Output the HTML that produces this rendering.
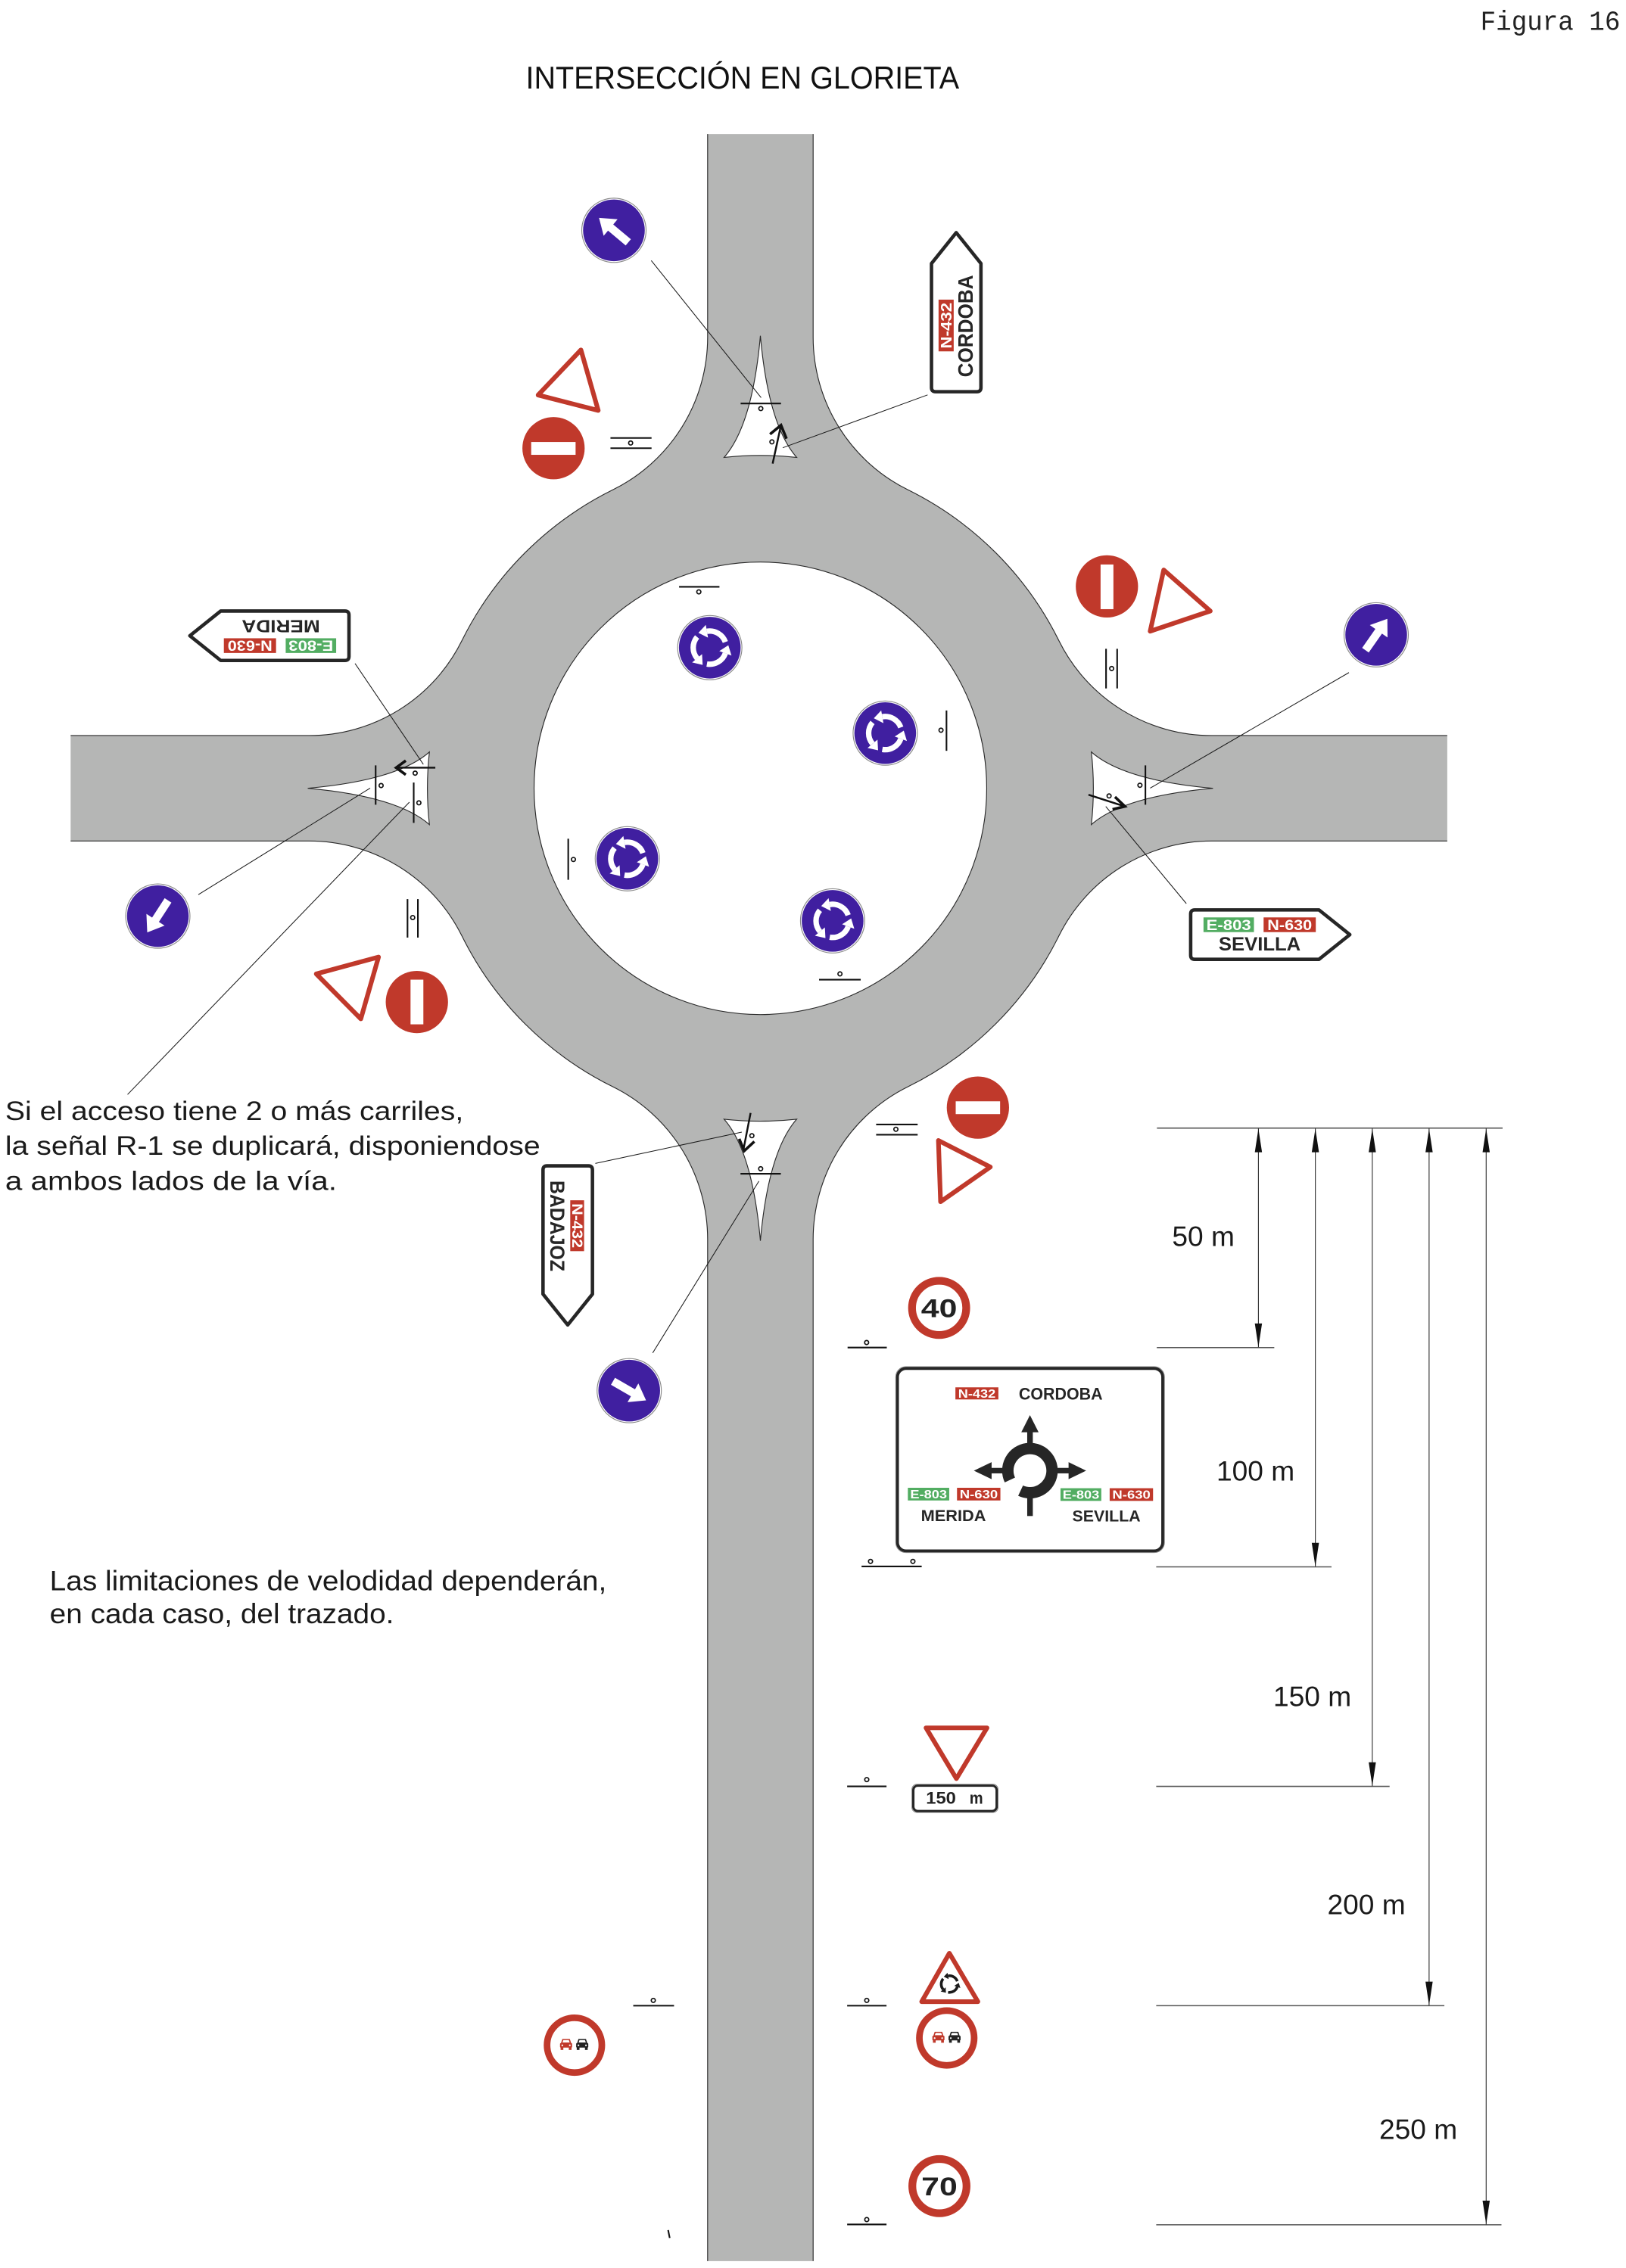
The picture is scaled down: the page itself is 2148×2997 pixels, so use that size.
<!DOCTYPE html>
<html><head><meta charset="utf-8">
<style>html,body{margin:0;padding:0;background:#fff;}svg{display:block;}</style>
</head><body>
<svg xmlns="http://www.w3.org/2000/svg" width="2148" height="2997" viewBox="0 0 1128 1573.8" font-family="'Liberation Sans', sans-serif">
<defs>
  <g id="seg">
    <path d="M10.81,-3.93 A11.5,11.5 0 0 0 -2,-11.33" fill="none" stroke="currentColor" stroke-width="3.8"/>
    <path d="M-2.78,-15.76 L-1.22,-6.9 L-7.9,-10.29Z" fill="currentColor"/>
  </g>
  <g id="rbsym">
    <use href="#seg"/>
    <use href="#seg" transform="rotate(120)"/>
    <use href="#seg" transform="rotate(240)"/>
  </g>
  <g id="rb">
    <circle r="22.3" fill="#fff" stroke="#8a8a8a" stroke-width="0.6"/>
    <circle r="21.4" fill="#401fa0"/>
    <use href="#rbsym" style="color:#fff"/>
  </g>
  <g id="bc">
    <circle r="22.3" fill="#fff" stroke="#8a8a8a" stroke-width="0.6"/>
    <circle r="21.4" fill="#401fa0"/>
  </g>
  <polygon id="ar" points="0,-13.5 7.5,-3 2.8,-3 2.8,13 -2.8,13 -2.8,-3 -7.5,-3" fill="#fff"/>
  <path id="tpl" d="M4,1.2 L90.2,1.2 L111.6,18.35 L90.2,35.5 L4,35.5 Q1.2,35.5 1.2,32.7 L1.2,4 Q1.2,1.2 4,1.2Z" fill="#fff" stroke="#262626" stroke-width="2.4" stroke-linejoin="round"/>
  <g id="car">
    <path d="M-2.6,-3.6 L2.6,-3.6 L3.6,-0.6 L-3.6,-0.6Z" fill="currentColor"/>
    <path d="M-1.9,-2.8 L1.9,-2.8 L2.5,-1.2 L-2.5,-1.2Z" fill="#fff"/>
    <rect x="-4.2" y="-0.8" width="8.4" height="3.2" rx="0.6" fill="currentColor"/>
    <rect x="-3.8" y="2.2" width="1.9" height="1.8" fill="currentColor"/>
    <rect x="1.9" y="2.2" width="1.9" height="1.8" fill="currentColor"/>
    <circle cx="-2.6" cy="0.8" r="0.6" fill="#fff"/>
    <circle cx="2.6" cy="0.8" r="0.6" fill="#fff"/>
  </g>
</defs>

<!-- header -->
<text x="1027" y="20.8" font-family="'Liberation Mono', monospace" font-size="19" textLength="97" lengthAdjust="spacingAndGlyphs" fill="#222">Figura 16</text>
<text x="364.7" y="61.3" font-size="22" textLength="300.7" lengthAdjust="spacingAndGlyphs" fill="#111">INTERSECCIÓN EN GLORIETA</text>

<!-- road -->
<path fill="#b5b6b5" d="M490.9,93 L490.9,234 A118.2,118.2 0 0 1 425.1,339.9 A231,231 0 0 0 320.4,444.6 A118.2,118.2 0 0 1 214.5,510.4 L49,510.4 L49,583.6 L214.5,583.6 A118.2,118.2 0 0 1 320.4,649.4 A231,231 0 0 0 425.1,754.1 A118.2,118.2 0 0 1 490.9,860 L490.9,1569 L564.1,1569 L564.1,860 A118.2,118.2 0 0 1 629.9,754.1 A231,231 0 0 0 734.6,649.4 A118.2,118.2 0 0 1 840.5,583.6 L1004,583.6 L1004,510.4 L840.5,510.4 A118.2,118.2 0 0 1 734.6,444.6 A231,231 0 0 0 629.9,339.9 A118.2,118.2 0 0 1 564.1,234 L564.1,93 Z"/>
<path fill="none" stroke="#2a2a2a" stroke-width="0.6" d="M490.9,93 L490.9,234 A118.2,118.2 0 0 1 425.1,339.9 A231,231 0 0 0 320.4,444.6 A118.2,118.2 0 0 1 214.5,510.4 L49,510.4 M49,583.6 L214.5,583.6 A118.2,118.2 0 0 1 320.4,649.4 A231,231 0 0 0 425.1,754.1 A118.2,118.2 0 0 1 490.9,860 L490.9,1569 M564.1,1569 L564.1,860 A118.2,118.2 0 0 1 629.9,754.1 A231,231 0 0 0 734.6,649.4 A118.2,118.2 0 0 1 840.5,583.6 L1004,583.6 M1004,510.4 L840.5,510.4 A118.2,118.2 0 0 1 734.6,444.6 A231,231 0 0 0 629.9,339.9 A118.2,118.2 0 0 1 564.1,234 L564.1,93"/>
<circle cx="527.5" cy="547" r="157" fill="#fff" stroke="#2a2a2a" stroke-width="0.6"/>

<!-- splitter islands -->
<g fill="#fff" stroke="#2a2a2a" stroke-width="0.6">
  <path d="M527.5,233 Q522,295 502.3,317.4 Q527.5,314.6 552.7,317.4 Q533,295 527.5,233Z"/>
  <path d="M527.5,861 Q522,799 502.3,776.6 Q527.5,779.4 552.7,776.6 Q533,799 527.5,861Z"/>
  <path d="M213.5,547 Q275.5,541.5 297.9,521.8 Q295.1,547 297.9,572.2 Q275.5,552.5 213.5,547Z"/>
  <path d="M841.5,547 Q779.5,541.5 757.1,521.8 Q759.9,547 757.1,572.2 Q779.5,552.5 841.5,547Z"/>
</g>

<!-- leader lines -->
<g stroke="#1a1a1a" stroke-width="0.55" fill="none">
  <line x1="451.8" y1="180.8" x2="528" y2="275.9"/>
  <line x1="543" y1="310.7" x2="643.5" y2="274"/>
  <line x1="246.3" y1="460.4" x2="293.7" y2="530.4"/>
  <line x1="256.8" y1="546.9" x2="137.6" y2="620.8"/>
  <line x1="284" y1="556.6" x2="88.5" y2="759.5"/>
  <line x1="935.8" y1="466.7" x2="797.9" y2="546.9"/>
  <line x1="767.1" y1="559.6" x2="823" y2="627"/>
  <line x1="413" y1="807.3" x2="514.6" y2="785.6"/>
  <line x1="526.5" y1="819.6" x2="452.8" y2="938.8"/>
</g>

<!-- island marks & arrows -->
<g stroke="#111" stroke-width="1.1" fill="none">
  <!-- top island -->
  <line x1="513.8" y1="280" x2="541.8" y2="280"/>
  <line x1="536" y1="321.7" x2="541.8" y2="295" stroke-width="1.3"/>
  <polyline points="534.2,301.3 541.8,295 545.6,304.4" stroke-width="1.9"/>
  <!-- left island -->
  <line x1="260.6" y1="531.1" x2="260.6" y2="558.4"/>
  <line x1="287" y1="543" x2="287" y2="571"/>
  <line x1="302" y1="532.7" x2="274.6" y2="532.7" stroke-width="1.3"/>
  <polyline points="281.5,527.8 274.8,532.7 281.5,537.6" stroke-width="1.9"/>
  <!-- right island -->
  <line x1="794.6" y1="531.1" x2="794.6" y2="558.4"/>
  <line x1="755.1" y1="551.5" x2="780.6" y2="559.7" stroke-width="1.3"/>
  <polyline points="773.5,553 780.4,559.6 771.8,561.6" stroke-width="1.9"/>
  <!-- bottom island -->
  <line x1="520.7" y1="772.3" x2="515.8" y2="797.5" stroke-width="1.3"/>
  <polyline points="512.8,790.3 516.3,798.6 523.3,792.1" stroke-width="1.9"/>
  <line x1="513.7" y1="814.5" x2="541.7" y2="814.5"/>
  <!-- ring island marks -->
  <line x1="471.1" y1="407.2" x2="499.1" y2="407.2"/>
  <line x1="656.6" y1="493" x2="656.6" y2="521"/>
  <line x1="394.2" y1="582" x2="394.2" y2="610.5"/>
  <line x1="568.2" y1="679.8" x2="597.1" y2="679.8"/>
  <!-- outer marks -->
  <line x1="423.5" y1="303.9" x2="452" y2="303.9"/>
  <line x1="423.5" y1="311" x2="452" y2="311"/>
  <line x1="767.3" y1="450.2" x2="767.3" y2="477.7"/>
  <line x1="775" y1="450.2" x2="775" y2="477.7"/>
  <line x1="282.7" y1="623.9" x2="282.7" y2="650.6"/>
  <line x1="289.9" y1="623.9" x2="289.9" y2="650.6"/>
  <line x1="607.8" y1="780.3" x2="636.6" y2="780.3"/>
  <line x1="607.8" y1="787.4" x2="636.6" y2="787.4"/>
  <!-- road marks -->
  <line x1="588" y1="935.1" x2="615.2" y2="935.1"/>
  <line x1="597.7" y1="1087" x2="639.4" y2="1087"/>
  <line x1="587.7" y1="1239.6" x2="615" y2="1239.6"/>
  <line x1="587.7" y1="1391.8" x2="615" y2="1391.8"/>
  <line x1="439.3" y1="1391.8" x2="467.6" y2="1391.8"/>
  <line x1="587.7" y1="1543.6" x2="615" y2="1543.6"/>
  <line x1="463.5" y1="1547.5" x2="464.6" y2="1553"/>
</g>
<g fill="#fff" stroke="#111" stroke-width="0.9">
  <circle cx="527.8" cy="283.5" r="1.4"/>
  <circle cx="535.5" cy="306.6" r="1.4"/>
  <circle cx="264.4" cy="545.1" r="1.4"/>
  <circle cx="290.6" cy="557.1" r="1.4"/>
  <circle cx="288" cy="536.5" r="1.4"/>
  <circle cx="790.8" cy="544.9" r="1.4"/>
  <circle cx="769.4" cy="552.3" r="1.4"/>
  <circle cx="521.6" cy="788.1" r="1.4"/>
  <circle cx="527.7" cy="811" r="1.4"/>
  <circle cx="484.8" cy="410.7" r="1.4"/>
  <circle cx="652.8" cy="506.7" r="1.4"/>
  <circle cx="397.8" cy="596.4" r="1.4"/>
  <circle cx="582.7" cy="675.8" r="1.4"/>
  <circle cx="437.5" cy="307.4" r="1.4"/>
  <circle cx="771.2" cy="463.9" r="1.4"/>
  <circle cx="286.3" cy="636.7" r="1.4"/>
  <circle cx="621.5" cy="783.6" r="1.4"/>
  <circle cx="601.2" cy="931.6" r="1.4"/>
  <circle cx="603.9" cy="1083.5" r="1.4"/>
  <circle cx="633.3" cy="1083.5" r="1.4"/>
  <circle cx="601.3" cy="1234.9" r="1.4"/>
  <circle cx="601.3" cy="1388.1" r="1.4"/>
  <circle cx="453.2" cy="1388.1" r="1.4"/>
  <circle cx="601.3" cy="1540.2" r="1.4"/>
</g>

<!-- blue direction signs -->
<g transform="translate(425.9,159.8)"><use href="#bc"/><use href="#ar" transform="rotate(-50)"/></g>
<g transform="translate(954.7,440.5)"><use href="#bc"/><use href="#ar" transform="rotate(35)"/></g>
<g transform="translate(109.5,635.7)"><use href="#bc"/><use href="#ar" transform="rotate(213)"/></g>
<g transform="translate(436.5,965)"><use href="#bc"/><use href="#ar" transform="rotate(120)"/></g>

<!-- roundabout blue signs -->
<use href="#rb" x="492.4" y="449.4"/>
<use href="#rb" x="614.1" y="508.7"/>
<use href="#rb" x="435.2" y="595.9"/>
<use href="#rb" x="577.6" y="639"/>

<!-- red triangles (yield) -->
<g fill="none" stroke="#c0392b" stroke-width="3.2" stroke-linejoin="round">
  <polygon points="403,242.8 373.3,274.1 415,284.8"/>
  <polygon points="807.3,395.5 839.6,424 797.9,438"/>
  <polygon points="219.4,675.8 262.6,664.1 250.3,707"/>
  <polygon points="651,791.4 687,809.8 652.5,833.9"/>
  <polygon points="642.4,1199 684.7,1199 663.5,1234.2"/>
  <polygon points="658.6,1355.4 639.4,1389 678.4,1389"/>
</g>
<use href="#rbsym" transform="translate(658.7,1376.8) scale(0.5)" style="color:#1a1a1a"/>

<!-- no entry signs -->
<circle cx="384" cy="311" r="21.6" fill="#c0392b"/>
<rect x="368.5" y="306.7" width="30.8" height="8.9" fill="#fff"/>
<circle cx="767.9" cy="406.9" r="21.6" fill="#c0392b"/>
<rect x="763.5" y="391.7" width="8.9" height="31" fill="#fff"/>
<circle cx="289.2" cy="695.3" r="21.6" fill="#c0392b"/>
<rect x="284.8" y="679.8" width="8.9" height="31" fill="#fff"/>
<circle cx="678.4" cy="768.6" r="21.6" fill="#c0392b"/>
<rect x="663" y="764.2" width="30.8" height="8.9" fill="#fff"/>

<!-- route signs -->
<g transform="translate(824.8,630.2)">
  <use href="#tpl"/>
  <rect x="10.1" y="6.4" width="35" height="10.2" fill="#52ad62"/>
  <text x="27.6" y="15.1" font-size="10" font-weight="bold" fill="#fff" text-anchor="middle" textLength="31" lengthAdjust="spacingAndGlyphs">E-803</text>
  <rect x="51.8" y="6.4" width="36.2" height="10.2" fill="#c0392b"/>
  <text x="69.9" y="15.1" font-size="10" font-weight="bold" fill="#fff" text-anchor="middle" textLength="31" lengthAdjust="spacingAndGlyphs">N-630</text>
  <text x="20.6" y="29.4" font-size="13" font-weight="bold" fill="#262626" textLength="56.9" lengthAdjust="spacingAndGlyphs">SEVILLA</text>
</g>
<g transform="translate(243.3,459.5) rotate(180)">
  <use href="#tpl"/>
  <rect x="10.1" y="6.4" width="35" height="10.2" fill="#52ad62"/>
  <text x="27.6" y="15.1" font-size="10" font-weight="bold" fill="#fff" text-anchor="middle" textLength="31" lengthAdjust="spacingAndGlyphs">E-803</text>
  <rect x="51.8" y="6.4" width="36.2" height="10.2" fill="#c0392b"/>
  <text x="69.9" y="15.1" font-size="10" font-weight="bold" fill="#fff" text-anchor="middle" textLength="31" lengthAdjust="spacingAndGlyphs">N-630</text>
  <text x="21.3" y="29.2" font-size="12" font-weight="bold" fill="#262626" textLength="54.3" lengthAdjust="spacingAndGlyphs">MERIDA</text>
</g>
<g transform="translate(645,273) rotate(-90)">
  <use href="#tpl"/>
  <rect x="29.2" y="6.1" width="35.9" height="10.5" fill="#c0392b"/>
  <text x="47.1" y="15" font-size="10.5" font-weight="bold" fill="#fff" text-anchor="middle" textLength="32" lengthAdjust="spacingAndGlyphs">N-432</text>
  <text x="11.3" y="29.7" font-size="14.5" font-weight="bold" fill="#262626" textLength="70.9" lengthAdjust="spacingAndGlyphs">CORDOBA</text>
</g>
<g transform="translate(412.2,807.8) rotate(90)">
  <use href="#tpl"/>
  <rect x="25.1" y="7" width="35.3" height="9.6" fill="#c0392b"/>
  <text x="42.7" y="15.3" font-size="10" font-weight="bold" fill="#fff" text-anchor="middle" textLength="31" lengthAdjust="spacingAndGlyphs">N-432</text>
  <text x="11.4" y="30.3" font-size="14" font-weight="bold" fill="#262626" textLength="63" lengthAdjust="spacingAndGlyphs">BADAJOZ</text>
</g>

<!-- notes -->
<g font-size="18.7" fill="#1a1a1a">
  <text x="3.6" y="777.3" textLength="317.9" lengthAdjust="spacingAndGlyphs">Si el acceso tiene 2 o más carriles,</text>
  <text x="3.6" y="801.3" textLength="371.2" lengthAdjust="spacingAndGlyphs">la señal R-1 se duplicará, disponiendose</text>
  <text x="3.6" y="825.8" textLength="230.1" lengthAdjust="spacingAndGlyphs">a ambos lados de la vía.</text>
</g>
<g font-size="19.5" fill="#1a1a1a">
  <text x="34.5" y="1103.6" textLength="386.3" lengthAdjust="spacingAndGlyphs">Las limitaciones de velodidad dependerán,</text>
  <text x="34.5" y="1126.4" textLength="238.8" lengthAdjust="spacingAndGlyphs">en cada caso, del trazado.</text>
</g>

<!-- speed limits -->
<circle cx="651.5" cy="907.6" r="18.8" fill="#fff" stroke="#c0392b" stroke-width="5.4"/>
<text x="651.5" y="913.9" font-size="18" font-weight="bold" fill="#222" text-anchor="middle" textLength="25" lengthAdjust="spacingAndGlyphs">40</text>
<circle cx="651.7" cy="1517" r="18.8" fill="#fff" stroke="#c0392b" stroke-width="5.4"/>
<text x="651.7" y="1523.3" font-size="18" font-weight="bold" fill="#222" text-anchor="middle" textLength="25" lengthAdjust="spacingAndGlyphs">70</text>

<!-- no overtaking -->
<circle cx="656.8" cy="1414.2" r="19" fill="#fff" stroke="#c0392b" stroke-width="4.6"/>
<use href="#car" x="651" y="1413.5" style="color:#c0392b"/>
<use href="#car" x="662.2" y="1413.5" style="color:#222"/>
<circle cx="398.5" cy="1419.2" r="19" fill="#fff" stroke="#c0392b" stroke-width="4.6"/>
<use href="#car" x="392.7" y="1418.5" style="color:#c0392b"/>
<use href="#car" x="403.9" y="1418.5" style="color:#222"/>

<!-- 150 m plate -->
<rect x="632.6" y="1238.1" width="59.8" height="19.6" rx="3.5" fill="#fff" stroke="#888" stroke-width="0.5"/>
<rect x="633.6" y="1239.1" width="57.8" height="17.6" rx="3" fill="#fff" stroke="#262626" stroke-width="1.6"/>
<text x="642.4" y="1251.6" font-size="11.6" font-weight="bold" fill="#222" textLength="20.8" lengthAdjust="spacingAndGlyphs">150</text>
<text x="672.6" y="1251.6" font-size="11.6" font-weight="bold" fill="#222" textLength="9.4" lengthAdjust="spacingAndGlyphs">m</text>

<!-- direction sign -->
<rect x="621.4" y="948.4" width="186.4" height="129" rx="7" fill="#fff" stroke="#888" stroke-width="0.5"/>
<rect x="622.6" y="949.6" width="184" height="126.6" rx="6" fill="#fff" stroke="#262626" stroke-width="2"/>
<rect x="662.8" y="962.7" width="29.8" height="8.4" fill="#c0392b"/>
<text x="677.7" y="970" font-size="8.4" font-weight="bold" fill="#fff" text-anchor="middle" textLength="26" lengthAdjust="spacingAndGlyphs">N-432</text>
<text x="706.8" y="971.1" font-size="11.7" font-weight="bold" fill="#262626" textLength="58.1" lengthAdjust="spacingAndGlyphs">CORDOBA</text>
<g fill="#262626">
  <polygon points="714.5,982 720.5,993.9 708.5,993.9"/>
  <rect x="712.6" y="993.5" width="3.9" height="9"/>
  <polygon points="675.6,1020.5 687.9,1014.6 687.9,1026.4"/>
  <rect x="687.5" y="1018.6" width="9.5" height="3.8"/>
  <polygon points="753.5,1020.5 741.3,1014.6 741.3,1026.4"/>
  <rect x="732.2" y="1018.6" width="9.5" height="3.8"/>
  <rect x="712.6" y="1038.5" width="3.9" height="13.5"/>
</g>
<path d="M700.6,1027 A15.35,15.35 0 1 1 708,1034.4" fill="none" stroke="#262626" stroke-width="7.9"/>
<rect x="629.8" y="1032.4" width="28.7" height="8.8" fill="#52ad62"/>
<text x="644.2" y="1039.8" font-size="8.4" font-weight="bold" fill="#fff" text-anchor="middle" textLength="25.5" lengthAdjust="spacingAndGlyphs">E-803</text>
<rect x="663.9" y="1032.4" width="30.1" height="8.8" fill="#c0392b"/>
<text x="679" y="1039.8" font-size="8.4" font-weight="bold" fill="#fff" text-anchor="middle" textLength="26.5" lengthAdjust="spacingAndGlyphs">N-630</text>
<text x="638.9" y="1055.5" font-size="11" font-weight="bold" fill="#262626" textLength="45.1" lengthAdjust="spacingAndGlyphs">MERIDA</text>
<rect x="735.7" y="1032.7" width="28.3" height="8.8" fill="#52ad62"/>
<text x="749.9" y="1040.1" font-size="8.4" font-weight="bold" fill="#fff" text-anchor="middle" textLength="25.5" lengthAdjust="spacingAndGlyphs">E-803</text>
<rect x="769.8" y="1032.7" width="30.1" height="8.8" fill="#c0392b"/>
<text x="784.9" y="1040.1" font-size="8.4" font-weight="bold" fill="#fff" text-anchor="middle" textLength="26.5" lengthAdjust="spacingAndGlyphs">N-630</text>
<text x="743.9" y="1055.9" font-size="11" font-weight="bold" fill="#262626" textLength="47.3" lengthAdjust="spacingAndGlyphs">SEVILLA</text>

<!-- dimension lines -->
<g stroke="#555" stroke-width="0.8">
  <line x1="802.6" y1="782.8" x2="1042.4" y2="782.8"/>
  <line x1="802.5" y1="935.1" x2="884" y2="935.1"/>
  <line x1="802.1" y1="1087.3" x2="923.7" y2="1087.3"/>
  <line x1="802.1" y1="1239.6" x2="964" y2="1239.6"/>
  <line x1="802.1" y1="1391.8" x2="1002" y2="1391.8"/>
  <line x1="802.1" y1="1543.8" x2="1041.6" y2="1543.8"/>
</g>
<g stroke="#333" stroke-width="0.6">
  <line x1="873" y1="783" x2="873" y2="935"/>
  <line x1="912.5" y1="783" x2="912.5" y2="1087"/>
  <line x1="952" y1="783" x2="952" y2="1239.5"/>
  <line x1="991.4" y1="783" x2="991.4" y2="1391.7"/>
  <line x1="1031" y1="783" x2="1031" y2="1543.7"/>
</g>
<g fill="#111">
  <polygon points="873,783.2 875.5,799.6 870.5,799.6"/>
  <polygon points="912.5,783.2 915,799.6 910,799.6"/>
  <polygon points="952,783.2 954.5,799.6 949.5,799.6"/>
  <polygon points="991.4,783.2 993.9,799.6 988.9,799.6"/>
  <polygon points="1031,783.2 1033.5,799.6 1028.5,799.6"/>
  <polygon points="873,934.8 875.5,918.4 870.5,918.4"/>
  <polygon points="912.5,1087 915,1070.6 910,1070.6"/>
  <polygon points="952,1239.3 954.5,1222.9 949.5,1222.9"/>
  <polygon points="991.4,1391.5 993.9,1375.1 988.9,1375.1"/>
  <polygon points="1031,1543.5 1033.5,1527.1 1028.5,1527.1"/>
</g>
<g font-size="19.5" fill="#1a1a1a">
  <text x="813.1" y="864.7">50 m</text>
  <text x="843.9" y="1027.5">100 m</text>
  <text x="883.3" y="1183.8">150 m</text>
  <text x="920.8" y="1328.3">200 m</text>
  <text x="956.8" y="1484.2">250 m</text>
</g>
</svg>
</body></html>
